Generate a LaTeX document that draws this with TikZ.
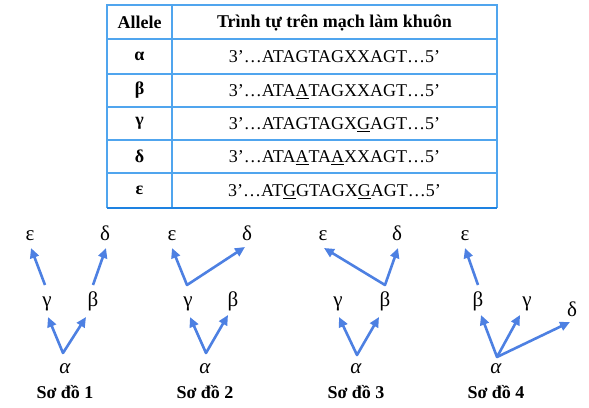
\documentclass[tikz,border=0pt]{standalone}
\usepackage{fontspec}
\setmainfont{Liberation Serif}
\usetikzlibrary{arrows.meta}
\definecolor{tblue}{RGB}{80,165,238}
\definecolor{tdark}{RGB}{30,130,225}
\definecolor{ablue}{RGB}{77,128,226}
\begin{document}
\begin{tikzpicture}[x=1pt,y=-1pt,
  tline/.style={draw=tblue,line width=1.3pt},
  cell/.style={inner sep=0pt,font=\fontsize{18}{21}\selectfont},
  gk/.style={inner sep=0pt,anchor=base,font=\fontsize{21}{25}\selectfont},
  captext/.style={inner sep=0pt,font=\fontsize{18}{21}\selectfont\bfseries},
  arr/.style={draw=ablue,line width=2.6pt,line join=round,-{Triangle[length=10pt,width=9pt]}},
  arrv/.style={draw=ablue,line width=2.6pt,line join=round,{Triangle[length=10pt,width=9pt]}-{Triangle[length=10pt,width=9pt]}}]
\useasboundingbox (0,0) rectangle (589,407);
% table
\draw[tline] (107,208) -- (107,5) -- (497,5) -- (497,208);
\draw[tline] (172,5) -- (172,208);
\foreach \yy in {39,74,107,140,173} \draw[tline] (107,\yy) -- (497,\yy);
\draw[draw=tdark,line width=2pt] (107,208) -- (497,208);
\node[cell] (h1) at (139.5,22.5) {\bfseries Allele};
\node[cell] (h2) at (334.5,22.5) {\bfseries Trình tự trên mạch làm khuôn};
\node[cell] (r1) at (139.5,56.5) {\bfseries α};
\node[cell] (r2) at (139.5,90.5) {\bfseries β};
\node[cell] (r3) at (139.5,123.5) {\bfseries γ};
\node[cell] (r4) at (139.5,156.5) {\bfseries δ};
\node[cell] (r5) at (139.5,190.5) {\bfseries ε};
\node[cell,anchor=base] (s1) at (334.5,62.5) {3’…ATAGTAGXXAGT…5’};
\node[cell,anchor=base] (s2) at (334.5,96.5) {3’…ATA\underline{A}TAGXXAGT…5’};
\node[cell,anchor=base] (s3) at (334.5,129.5) {3’…ATAGTAGX\underline{G}AGT…5’};
\node[cell,anchor=base] (s4) at (334.5,162.5) {3’…ATA\underline{A}TA\underline{A}XXAGT…5’};
\node[cell,anchor=base] (s5) at (334.5,196.5) {3’…AT\underline{G}GTAGX\underline{G}AGT…5’};
% diagram 1
\node[gk] (e1) at (30,240) {ε};
\node[gk] (d1) at (105,240) {δ};
\node[gk] (g1) at (47,306) {γ};
\node[gk] (b1) at (93,306) {β};
\node[gk] (a1) at (65,373) {\itshape α};
\node[captext] (l1) at (65,392) {Sơ đồ 1};
\draw[arr] ([xshift=-2pt,yshift=21pt]g1.base) -- ([xshift=1pt,yshift=-8pt]e1.base);
\draw[arr] ([yshift=21pt]b1.base) -- ([xshift=1pt,yshift=-8pt]d1.base);
\draw[arrv] ([xshift=1pt,yshift=-11pt]g1.base) -- ([xshift=-2pt,yshift=20pt]a1.base) -- ([xshift=-7pt,yshift=-11pt]b1.base);
% diagram 2
\node[gk] (e2) at (172,240) {ε};
\node[gk] (d2) at (247,240) {δ};
\node[gk] (g2) at (188,306) {γ};
\node[gk] (b2) at (233,306) {β};
\node[gk] (a2) at (205,373) {\itshape α};
\node[captext] (l2) at (205,392) {Sơ đồ 2};
\draw[arrv] ([yshift=-8pt]e2.base) -- ([xshift=-1pt,yshift=21pt]g2.base) -- ([xshift=-2pt,yshift=-7pt]d2.base);
\draw[arrv] ([xshift=2pt,yshift=-11pt]g2.base) -- ([xshift=1pt,yshift=20pt]a2.base) -- ([xshift=-5pt,yshift=-9pt]b2.base);
% diagram 3
\node[gk] (e3) at (323,240) {ε};
\node[gk] (d3) at (397,240) {δ};
\node[gk] (g3) at (338,306) {γ};
\node[gk] (b3) at (385,306) {β};
\node[gk] (a3) at (356,373) {\itshape α};
\node[captext] (l3) at (356,392) {Sơ đồ 3};
\draw[arrv] ([xshift=1pt,yshift=-8pt]e3.base) -- ([yshift=21pt]b3.base) -- ([xshift=1pt,yshift=-8pt]d3.base);
\draw[arrv] ([xshift=1pt,yshift=-11pt]g3.base) -- ([xshift=1pt,yshift=18pt]a3.base) -- ([xshift=-6pt,yshift=-11pt]b3.base);
% diagram 4
\node[gk] (e4) at (465,240) {ε};
\node[gk] (b4) at (478,306) {β};
\node[gk] (g4) at (527,306) {γ};
\node[gk] (d4) at (572,316) {δ};
\node[gk] (a4) at (496,373) {\itshape α};
\node[captext] (l4) at (496,392) {Sơ đồ 4};
\draw[arr] ([yshift=21pt]b4.base) -- ([yshift=-8pt]e4.base);
\draw[arrv] ([xshift=3pt,yshift=-9pt]b4.base) -- ([xshift=1pt,yshift=16pt]a4.base) -- ([xshift=-7pt,yshift=-9pt]g4.base);
\draw[arr] ([xshift=1pt,yshift=16pt]a4.base) -- ([xshift=-2pt,yshift=-6pt]d4.base);
\end{tikzpicture}
\end{document}
